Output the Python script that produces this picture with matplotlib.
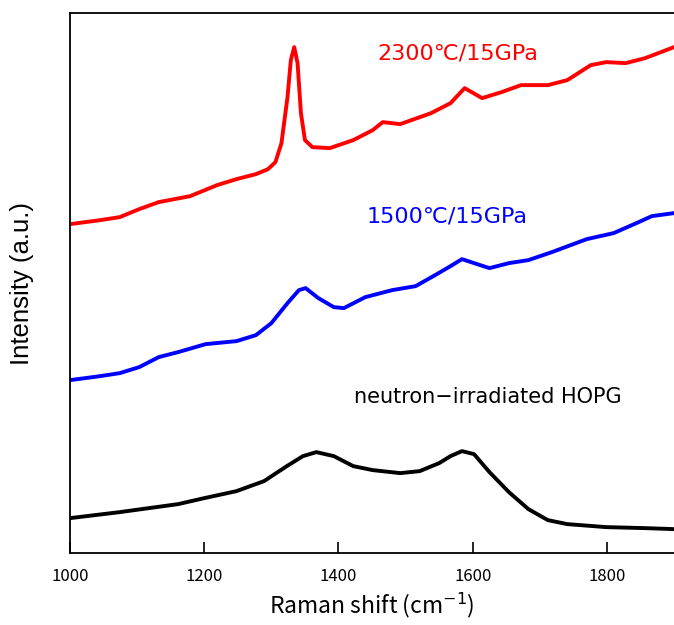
import matplotlib
matplotlib.use("Agg")
import matplotlib.pyplot as plt
import numpy as np

# --- Data (intensity in arbitrary units) ---
hopg_x = [1000, 1074, 1161, 1200, 1248, 1289, 1323, 1347, 1367, 1393, 1422, 1451,
          1492, 1521, 1550, 1567, 1584, 1602, 1625, 1654, 1683, 1712, 1741, 1799,
          1857, 1900]
hopg_y = [35, 41, 49, 55, 62, 72, 87, 97, 101, 97, 87, 83,
          80, 82, 90, 97, 102, 99, 81, 61, 44, 33, 29, 26,
          25, 24]

t1500_x = [1000, 1045, 1074, 1103, 1132, 1161, 1202, 1248, 1277, 1300, 1324, 1341,
           1351, 1370, 1393, 1408, 1440, 1480, 1515, 1544, 1567, 1584, 1602, 1625,
           1654, 1683, 1718, 1770, 1810, 1844, 1867, 1900]
t1500_y = [173, 177, 180, 186, 196, 201, 209, 212, 218, 230, 250, 263,
           265, 255, 246, 245, 256, 263, 267, 278, 287, 294, 290, 285,
           290, 293, 301, 314, 320, 330, 337, 340]

t2300_x = [1000, 1045, 1074, 1103, 1132, 1179, 1219, 1248, 1277, 1295, 1306, 1315,
           1324, 1329, 1334, 1339, 1344, 1350, 1361, 1387, 1422, 1451, 1466, 1492,
           1538, 1567, 1588, 1614, 1643, 1672, 1712, 1741, 1776, 1799, 1828, 1857,
           1900]
t2300_y = [329, 333, 336, 344, 351, 357, 368, 374, 379, 384, 391, 410,
           456, 493, 506, 490, 440, 413, 406, 405, 413, 423, 431, 429,
           440, 450, 465, 455, 461, 468, 468, 473, 488, 491, 490, 495,
           506]

labels = ["2300\u2103/15GPa", "1500\u2103/15GPa", "neutron\u2212irradiated HOPG"]
xticks = [1000, 1200, 1400, 1600, 1800]

JP = ["Noto Sans CJK JP", "DejaVu Sans"]
LBL = ["DejaVu Sans", "Noto Sans CJK JP"]


def main():
    fig = plt.figure(figsize=(6.74, 6.25), dpi=100)
    ax = fig.add_axes([0.104, 0.115, 0.896, 0.864])

    ax.plot(hopg_x, hopg_y, color="black", linewidth=2.8)
    ax.plot(t1500_x, t1500_y, color="#0000ff", linewidth=2.8)
    ax.plot(t2300_x, t2300_y, color="#ff0000", linewidth=2.8)

    # labels next to the curves
    ax.text(1458, 500, labels[0], color="#ff0000", fontsize=16, family=LBL, va="center")
    ax.text(1442, 337, labels[1], color="#0000ff", fontsize=16, family=LBL, va="center")
    ax.text(1423, 156, labels[2], color="black", fontsize=15, family=LBL, va="center")

    ax.set_xlim(1000, 1900)
    ax.set_ylim(0, 540)
    ax.set_xticks(xticks)
    ax.set_xticklabels([str(t) for t in xticks], family=JP, fontsize=12)
    ax.set_yticks([])
    ax.tick_params(axis="x", direction="in", length=8, width=1.2, pad=11)
    ax.spines["right"].set_visible(False)
    for s in ["left", "bottom", "top"]:
        ax.spines[s].set_linewidth(1.3)

    ax.set_xlabel("Raman shift (cm$^{-1}$)", fontsize=16.5, family=JP, labelpad=4)
    ax.set_ylabel("Intensity (a.u.)", fontsize=18.5, family="Liberation Sans", labelpad=26)

    fig.savefig("out.png", dpi=100)


if __name__ == "__main__":
    main()
